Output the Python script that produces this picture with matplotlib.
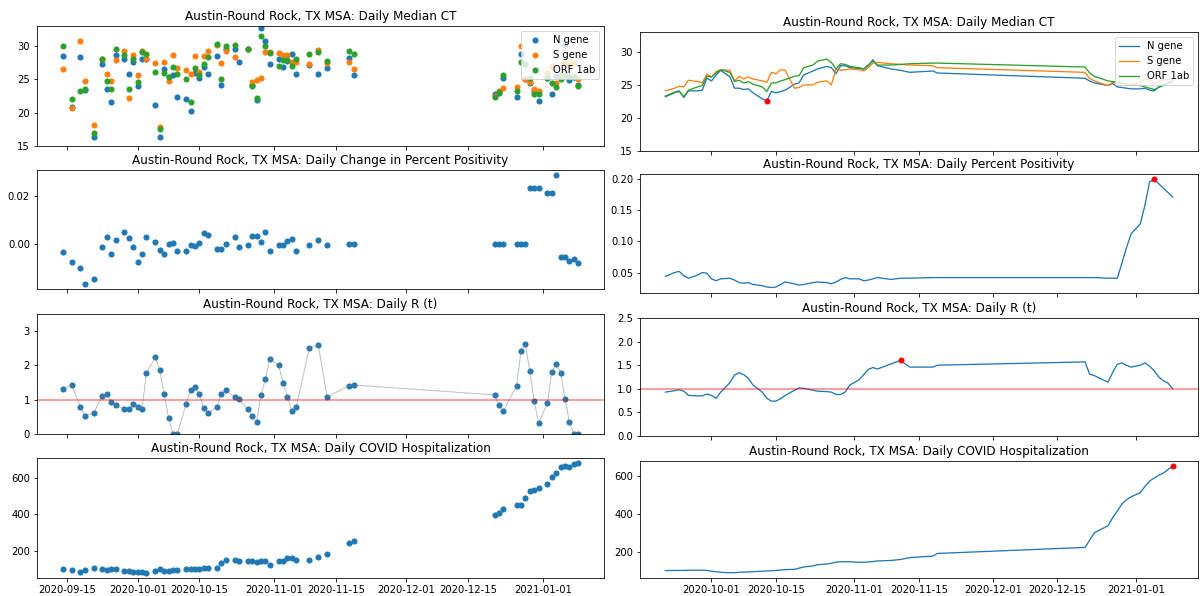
import matplotlib
matplotlib.use("Agg")
import matplotlib.pyplot as plt
import matplotlib.dates as mdates
import numpy as np
import pandas as pd

nan = np.nan
TITLE_PREFIX = "Austin-Round Rock, TX MSA: "

# ---------------- daily (left column) data ----------------
dates = ["2020-09-14", "2020-09-16", "2020-09-18", "2020-09-19", "2020-09-21", "2020-09-23",
         "2020-09-24", "2020-09-25", "2020-09-26", "2020-09-28", "2020-09-29", "2020-09-30",
         "2020-10-01", "2020-10-02", "2020-10-03", "2020-10-05", "2020-10-06", "2020-10-07",
         "2020-10-08", "2020-10-09", "2020-10-10", "2020-10-12", "2020-10-13", "2020-10-14",
         "2020-10-15", "2020-10-16", "2020-10-17", "2020-10-19", "2020-10-20", "2020-10-21",
         "2020-10-23", "2020-10-24", "2020-10-26", "2020-10-27", "2020-10-28", "2020-10-29",
         "2020-10-30", "2020-10-31", "2020-11-02", "2020-11-03", "2020-11-04", "2020-11-05",
         "2020-11-06", "2020-11-09", "2020-11-11", "2020-11-13", "2020-11-18", "2020-11-19",
         "2020-12-21", "2020-12-22", "2020-12-23", "2020-12-26", "2020-12-27", "2020-12-28",
         "2020-12-29", "2020-12-30", "2020-12-31", "2021-01-02", "2021-01-03", "2021-01-04",
         "2021-01-05", "2021-01-06", "2021-01-07", "2021-01-08", "2021-01-09"]

ct_n = [28.5, 20.85, 28.4, 23.35, 16.4, 27.25, 23.5, 21.55, 28.6, 28.0, 25.75, 27.55,
        24.0, 28.0, 28.0, 21.2, 16.4, 26.5, 25.3, 25.65, 22.3, 22.0, 20.25, 25.95,
        25.25, 26.85, 25.85, 28.5, 24.1, 29.6, 29.5, 27.55, 29.5, 24.1, 21.9, 32.65,
        30.8, 27.25, 28.1, 26.85, 27.75, 28.75, 25.85, 27.15, 25.75, 26.65, 28.25, 25.65,
        22.85, 23.0, 25.25, 22.35, 28.8, 25.1, 24.5, 23.2, 21.75, 25.2, 22.8, 25.5,
        25.6, 30.15, 24.85, 25.4, 24.1]
ct_s = [26.55, 20.75, 30.7, 24.8, 18.1, 28.0, 25.85, 24.75, 27.85, 29.3, 22.15, 28.6,
        25.65, 29.2, 28.1, 27.4, 17.8, 27.65, 24.8, 28.6, 26.65, 26.45, 25.85, 28.5,
        26.15, 28.5, 29.2, 30.2, 27.4, 29.3, 28.3, nan, 29.5, 24.55, 24.9, 25.25,
        29.15, 29.15, 29.0, 28.6, 28.7, 27.6, 27.6, 27.25, 29.4, 27.4, 27.55, 26.55,
        22.5, 23.3, 23.7, 23.85, 30.0, 25.0, 24.6, 23.6, 23.3, 25.95, 27.05, 24.5,
        25.5, 27.5, 27.3, 27.5, 25.0]
ct_orf = [30.0, 22.05, 23.3, 23.5, 17.0, 28.0, 24.75, 23.5, 29.6, 28.6, 23.5, 28.0,
          24.6, 29.1, 28.8, 26.05, 17.6, 25.95, 25.3, 26.9, 25.75, 25.0, 21.55, 26.75,
          25.65, 27.25, 28.4, 30.3, 25.0, 30.0, 30.1, nan, 29.5, 24.05, 22.25, 31.55,
          30.0, 29.0, 27.05, 27.9, 27.9, 27.05, 28.1, 28.8, 29.15, 27.8, 29.3, 28.8,
          22.3, 23.05, 25.6, 23.3, 27.55, 27.35, 25.2, 22.8, 22.8, 25.15, 24.4, 23.9,
          25.0, 25.6, 25.4, 25.4, 24.0]

pos_change = [-0.0036, -0.0078, -0.0101, -0.0168, -0.0149, -0.0014, 0.0029, -0.0042, 0.0013,
              0.0049, 0.0025, -0.0014, -0.0076, -0.0042, 0.0029, 0.0007, -0.0026, -0.0044,
              -0.0003, 0.0004, -0.0031, -0.0031, -0.0008, -0.0011, 0.0004, 0.0044, 0.0038,
              -0.0024, -0.0024, 0.0000, 0.0026, -0.0014, -0.0006, 0.0032, 0.0032, 0.0007,
              0.0050, -0.0031, -0.0006, -0.0006, 0.0010, 0.0021, -0.0031, -0.0008, 0.0017,
              -0.0008, 0.0000, 0.0000, 0.0000, 0.0000, 0.0000, 0.0000, 0.0000, 0.0000,
              0.0232, 0.0232, 0.0232, 0.0213, 0.0213, 0.0286, -0.0058, -0.0058, -0.0075,
              -0.0065, -0.0081]

rt = [1.30, 1.43, 0.80, 0.52, 0.62, 1.11, 1.16, 0.94, 0.84, 0.72, 0.74, 0.87,
      0.79, 0.74, 1.78, 2.24, 1.86, 1.18, 0.48, 0.0, 0.0, 0.88, 1.28, 1.37,
      1.16, 0.76, 0.60, 0.80, 1.16, 1.28, 1.08, 1.01, 0.72, 0.53, 0.36, 1.14,
      1.59, 2.20, 2.01, 1.49, 1.09, 0.67, 0.80, 2.52, 2.60, 1.08, 1.41, 1.43,
      1.14, 0.84, 0.66, 1.41, 2.41, 2.62, 1.83, 0.97, 0.33, 0.89, 1.81, 2.05,
      1.79, 1.02, 0.35, 0.0, 0.0]

hosp = [97, 94, 83, 94, 105, 101, 94, 101, 97, 86, 86, 83,
        83, 83, 79, 90, 101, 86, 86, 94, 94, 97, 101, 101,
        101, 105, 105, 105, 134, 149, 149, 141, 141, 141, 138, 141,
        141, 123, 141, 145, 160, 160, 149, 149, 163, 180, 239, 250,
        396, 409, 426, 448, 448, 488, 528, 532, 545, 567, 604, 624,
        657, 664, 661, 675, 679]

# ---------------- smoothed (right column) data ----------------
s_dates = dates[4:]

s_ct_n = [23.3, 23.9, 24.1, 23.1, 24.1, 24.1, 24.2, 26.0, 25.6, 26.5, 27.2, 26.2,
          24.5, 24.5, 24.3, 24.4, 23.8, 22.9, 22.6, 24.0, 23.8, 24.0, 24.2, 25.1,
          25.3, 26.5, 27.1, 27.4, 27.8, 27.6, 26.7, 27.9, 27.9, 27.6, 27.5, 27.4,
          27.9, 28.8, 27.9, 27.4, 27.2, 26.9, 27.1, 26.8, 26.0, 25.6, 25.3, 24.9,
          25.2, 24.7, 24.6, 24.5, 24.4, 24.4, 24.5, 24.2, 24.1, 24.7, 24.9, 25.3, 25.6]
s_ct_s = [24.1, 24.5, 24.8, 24.7, 25.7, 25.5, 25.3, 26.6, 26.2, 27.0, 27.3, 27.2,
          25.6, 26.3, 25.9, 26.2, 25.9, 25.6, 25.4, 26.9, 26.7, 27.3, 27.2, 24.5,
          24.6, 25.0, 25.0, 25.4, 25.6, 25.0, 27.4, 27.2, 27.3, 27.4, 27.3, 27.1,
          27.6, 28.3, 28.4, 28.2, 28.1, 28.0, 27.9, 27.6, 26.9, 26.0, 25.6, 24.9,
          25.4, 25.3, 25.2, 25.0, 25.0, 25.4, 25.9, 25.8, 25.2, 25.5, 25.7, 25.8, 25.8]
s_ct_orf = [23.2, 23.8, 24.0, 23.2, 24.2, 24.7, 24.9, 26.3, 26.2, 26.8, 27.3, 26.9,
            25.5, 25.7, 25.3, 25.5, 25.1, 24.7, 24.0, 25.3, 25.3, 25.6, 25.8, 26.3,
            26.4, 27.6, 28.0, 28.6, 28.9, 28.4, 27.4, 28.2, 28.1, 27.8, 27.6, 27.4,
            28.0, 28.6, 28.0, 28.0, 28.1, 28.2, 28.3, 28.3, 27.7, 26.8, 26.3, 25.6,
            25.5, 25.4, 25.3, 25.2, 25.0, 24.9, 24.7, 24.5, 24.3, 24.6, 25.0, 25.3, 25.5]
s_pos = [0.044, 0.050, 0.052, 0.045, 0.041, 0.046, 0.050, 0.049, 0.040, 0.037, 0.040, 0.041,
         0.038, 0.034, 0.033, 0.034, 0.031, 0.029, 0.027, 0.026, 0.027, 0.031, 0.035, 0.032,
         0.030, 0.031, 0.034, 0.035, 0.034, 0.032, 0.035, 0.039, 0.042, 0.040, 0.040, 0.037,
         0.038, 0.040, 0.042, 0.039, 0.041, 0.041, 0.042, 0.042, 0.042, 0.042, 0.042, 0.041,
         0.041, 0.041, 0.065, 0.090, 0.112, 0.128, 0.158, 0.195, 0.199, 0.192, 0.185, 0.178, 0.171]
s_rt = [0.93, 0.96, 0.98, 0.95, 0.86, 0.85, 0.85, 0.89, 0.86, 0.80, 0.93, 1.13,
        1.29, 1.34, 1.30, 1.22, 1.08, 0.93, 0.80, 0.74, 0.74, 0.79, 0.86, 0.97,
        1.02, 1.01, 0.97, 0.95, 0.94, 0.93, 0.88, 0.88, 0.93, 1.08, 1.19, 1.30,
        1.41, 1.45, 1.42, 1.53, 1.60, 1.46, 1.46, 1.50, 1.57, 1.31, 1.28, 1.14,
        1.35, 1.52, 1.55, 1.50, 1.46, 1.50, 1.55, 1.48, 1.38, 1.25, 1.17, 1.12, 1.00]
s_hosp = [99, 100, 100, 100, 101, 101, 101, 100, 96, 93, 90, 88,
          88, 90, 91, 92, 93, 96, 97, 98, 100, 102, 104, 106,
          112, 118, 124, 130, 134, 138, 144, 146, 146, 146, 143, 143,
          145, 147, 150, 153, 158, 168, 176, 190, 222, 260, 299, 337,
          380, 415, 452, 475, 490, 513, 545, 574, 590, 605, 616, 635, 652]

gene_labels = ["N gene", "S gene", "ORF 1ab"]

d = pd.to_datetime(dates)
sd = pd.to_datetime(s_dates)

W, H = 1200, 596
fig = plt.figure(figsize=(W / 72, H / 72), dpi=72)

def box(x0, x1, top, bottom):
    return [x0 / W, 1 - bottom / H, (x1 - x0) / W, (bottom - top) / H]

left_rows = [(26, 146), (170, 289), (314, 434), (458, 578)]
right_rows = [(32, 151), (174, 293), (318, 436), (461, 578)]

axL = []
for i, (t, b) in enumerate(left_rows):
    ax = fig.add_axes(box(37, 604, t, b), sharex=axL[0] if axL else None)
    axL.append(ax)
axR = []
for i, (t, b) in enumerate(right_rows):
    ax = fig.add_axes(box(640, 1198, t, b), sharex=axR[0] if axR else None)
    axR.append(ax)

MS = 26

# ----- left column -----
ax = axL[0]
for vals, lab in zip([ct_n, ct_s, ct_orf], gene_labels):
    ax.scatter(d, vals, label=lab, s=MS)
ax.set_ylim(15, 33)
ax.set_yticks([15, 20, 25, 30])
ax.legend(loc="upper right")
ax.set_title(TITLE_PREFIX + "Daily Median CT")

ax = axL[1]
ax.scatter(d, pos_change, s=MS)
ax.set_yticks([0.0, 0.02])
ax.set_title(TITLE_PREFIX + "Daily Change in Percent Positivity")

ax = axL[2]
ax.plot(d, rt, color="gray", alpha=0.5, lw=1)
ax.scatter(d, rt, s=MS)
ax.axhline(1, color="red", alpha=0.5, lw=1.5)
ax.set_ylim(0, 3.5)
ax.set_yticks([0, 1, 2, 3])
ax.set_title(TITLE_PREFIX + "Daily R (t)")

ax = axL[3]
ax.scatter(d, hosp, s=MS)
ax.set_yticks([200, 400, 600])
ax.set_title(TITLE_PREFIX + "Daily COVID Hospitalization")

# ----- right column -----
ax = axR[0]
for vals, lab in zip([s_ct_n, s_ct_s, s_ct_orf], gene_labels):
    ax.plot(sd, vals, label=lab, lw=1.3)
imin = int(np.argmin(s_ct_n))
ax.plot(sd[imin], s_ct_n[imin], "ro", ms=5)
ax.set_ylim(15, 33)
ax.set_yticks([15, 20, 25, 30])
ax.legend(loc="upper right")
ax.set_title(TITLE_PREFIX + "Daily Median CT")

ax = axR[1]
ax.plot(sd, s_pos, lw=1.3)
imax = int(np.argmax(s_pos))
ax.plot(sd[imax], s_pos[imax], "ro", ms=5)
ax.set_yticks([0.05, 0.10, 0.15, 0.20])
ax.set_title(TITLE_PREFIX + "Daily Percent Positivity")

ax = axR[2]
ax.plot(sd, s_rt, lw=1.3)
imax = int(np.argmax(s_rt))
ax.plot(sd[imax], s_rt[imax], "ro", ms=5)
ax.axhline(1, color="red", alpha=0.5, lw=1.5)
ax.set_ylim(0, 2.5)
ax.set_yticks([0.0, 0.5, 1.0, 1.5, 2.0, 2.5])
ax.set_title(TITLE_PREFIX + "Daily R (t)")

ax = axR[3]
ax.plot(sd, s_hosp, lw=1.3)
imax = int(np.argmax(s_hosp))
ax.plot(sd[imax], s_hosp[imax], "ro", ms=5)
ax.set_yticks([200, 400, 600])
ax.set_title(TITLE_PREFIX + "Daily COVID Hospitalization")

for col in (axL, axR):
    for ax in col:
        ax.xaxis.set_major_locator(mdates.DayLocator(bymonthday=[1, 15]))
        ax.xaxis.set_major_formatter(mdates.DateFormatter("%Y-%m-%d"))
    for ax in col[:-1]:
        ax.tick_params(axis="x", labelbottom=False)

fig.savefig("out.png", dpi=72)
